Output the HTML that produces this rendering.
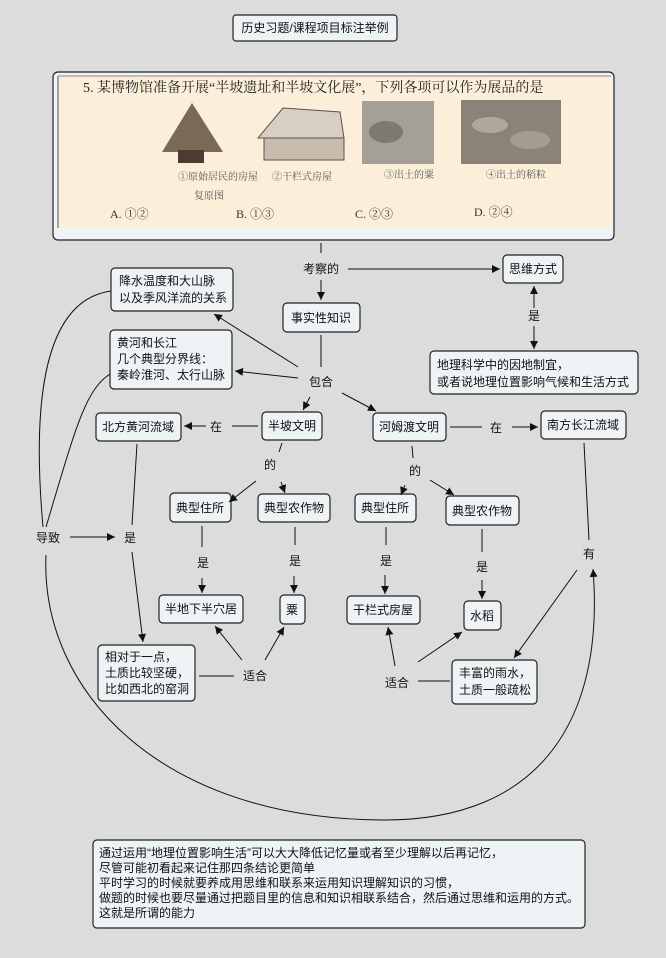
<!DOCTYPE html>
<html><head><meta charset="utf-8"><style>
html,body{margin:0;padding:0;background:#dcdcdc;}
svg{display:block;font-family:"Liberation Sans","Noto Sans CJK SC",sans-serif;}
text{font-size:12px;fill:#111;}
.b{fill:#eef3f5;stroke:#222;stroke-width:1.2;}
.l{stroke:#111;stroke-width:1;fill:none;}
</style></head><body>
<svg width="666" height="958" viewBox="0 0 666 958">
<defs><marker id="a" viewBox="0 0 10 10" refX="10" refY="5" markerWidth="8" markerHeight="8" orient="auto" markerUnits="userSpaceOnUse"><path d="M0,0L10,5L0,10z" fill="#111"/></marker></defs>
<rect width="666" height="958" fill="#dcdcdc"/>
<rect class="b" x="233" y="15" width="164" height="26" rx="3"/>
<text x="315" y="32" text-anchor="middle">历史习题/课程项目标注举例</text>
<rect class="b" x="53" y="72" width="561" height="168" rx="5"/>
<rect x="58" y="76" width="553" height="152" fill="#fbefd9"/>
<line x1="58" y1="76" x2="58" y2="228" stroke="#555"/>
<line x1="58" y1="76" x2="611" y2="76" stroke="#888"/>
<text x="83" y="92" style="font-family:'Liberation Serif','Noto Serif CJK SC',serif;font-size:14px;fill:#222">5. 某博物馆准备开展“半坡遗址和半坡文化展”，下列各项可以作为展品的是</text>
<path d="M192,103 L162,152 L223,152 Z" fill="#7a6a55"/><rect x="178" y="150" width="26" height="13" fill="#4a3c2e"/>
<path d="M283,108 L340,112 L344,138 L258,138 Z" fill="#d8cfc2" stroke="#555"/><rect x="264" y="138" width="80" height="22" fill="#c8bcab" stroke="#555"/>
<rect x="362" y="101" width="72" height="63" fill="#a5a097"/><ellipse cx="386" cy="132" rx="17" ry="11" fill="#7e7a72"/>
<rect x="461" y="100" width="100" height="64" fill="#8a8478"/>
<ellipse cx="490" cy="125" rx="18" ry="8" fill="#b0a898"/><ellipse cx="530" cy="140" rx="20" ry="9" fill="#a49c8c"/>
<text x="178" y="180" style="font-family:'Liberation Serif','Noto Serif CJK SC',serif;font-size:10px;fill:#555">①原始居民的房屋</text>
<text x="194" y="199" style="font-family:'Liberation Serif','Noto Serif CJK SC',serif;font-size:10px;fill:#555">复原图</text>
<text x="272" y="180" style="font-family:'Liberation Serif','Noto Serif CJK SC',serif;font-size:10px;fill:#555">②干栏式房屋</text>
<text x="384" y="178" style="font-family:'Liberation Serif','Noto Serif CJK SC',serif;font-size:10px;fill:#555">③出土的粟</text>
<text x="486" y="178" style="font-family:'Liberation Serif','Noto Serif CJK SC',serif;font-size:10px;fill:#555">④出土的稻粒</text>
<text x="110" y="218" style="font-family:'Liberation Serif','Noto Serif CJK SC',serif;font-size:12px;fill:#333">A. ①②</text>
<text x="236" y="218" style="font-family:'Liberation Serif','Noto Serif CJK SC',serif;font-size:12px;fill:#333">B. ①③</text>
<text x="355" y="218" style="font-family:'Liberation Serif','Noto Serif CJK SC',serif;font-size:12px;fill:#333">C. ②③</text>
<text x="474" y="216" style="font-family:'Liberation Serif','Noto Serif CJK SC',serif;font-size:12px;fill:#333">D. ②④</text>
<rect class="b" x="503" y="255" width="60" height="28" rx="4"/><text x="533" y="273" text-anchor="middle">思维方式</text>
<rect class="b" x="283" y="303" width="77" height="29" rx="4"/><text x="321" y="322" text-anchor="middle">事实性知识</text>
<rect class="b" x="111" y="268" width="122" height="43" rx="4"/><text x="119" y="285">降水温度和大山脉</text><text x="119" y="302">以及季风洋流的关系</text>
<rect class="b" x="110" y="330" width="122" height="59" rx="4"/><text x="117" y="347">黄河和长江</text><text x="117" y="363">几个典型分界线：</text><text x="117" y="379">秦岭淮河、太行山脉</text>
<rect class="b" x="430" y="351" width="208" height="43" rx="4"/><text x="437" y="369">地理科学中的因地制宜，</text><text x="437" y="386">或者说地理位置影响气候和生活方式</text>
<rect class="b" x="262" y="412" width="60" height="28" rx="4"/><text x="292" y="430" text-anchor="middle">半坡文明</text>
<rect class="b" x="373" y="413" width="73" height="28" rx="4"/><text x="409" y="431" text-anchor="middle">河姆渡文明</text>
<rect class="b" x="96" y="413" width="85" height="28" rx="4"/><text x="138" y="431" text-anchor="middle">北方黄河流域</text>
<rect class="b" x="541" y="411" width="85" height="28" rx="4"/><text x="583" y="429" text-anchor="middle">南方长江流域</text>
<rect class="b" x="170" y="493" width="61" height="29" rx="4"/><text x="200" y="512" text-anchor="middle">典型住所</text>
<rect class="b" x="258" y="494" width="72" height="28" rx="4"/><text x="294" y="512" text-anchor="middle">典型农作物</text>
<rect class="b" x="355" y="494" width="61" height="28" rx="4"/><text x="385" y="512" text-anchor="middle">典型住所</text>
<rect class="b" x="446" y="496" width="73" height="29" rx="4"/><text x="482" y="515" text-anchor="middle">典型农作物</text>
<rect class="b" x="159" y="595" width="84" height="28" rx="4"/><text x="201" y="613" text-anchor="middle">半地下半穴居</text>
<rect class="b" x="280" y="595" width="25" height="29" rx="4"/><text x="292" y="614" text-anchor="middle">粟</text>
<rect class="b" x="347" y="596" width="73" height="28" rx="4"/><text x="383" y="614" text-anchor="middle">干栏式房屋</text>
<rect class="b" x="464" y="601" width="37" height="29" rx="4"/><text x="482" y="620" text-anchor="middle">水稻</text>
<rect class="b" x="98" y="645" width="97" height="56" rx="4"/><text x="105" y="661">相对于一点，</text><text x="105" y="677">土质比较坚硬，</text><text x="105" y="693">比如西北的窑洞</text>
<rect class="b" x="452" y="660" width="85" height="44" rx="4"/><text x="459" y="677">丰富的雨水，</text><text x="459" y="694">土质一般疏松</text>
<rect class="b" x="93" y="840" width="492" height="88" rx="4"/>
<text x="99" y="857">通过运用“地理位置影响生活”可以大大降低记忆量或者至少理解以后再记忆，</text>
<text x="99" y="872">尽管可能初看起来记住那四条结论更简单</text>
<text x="99" y="887">平时学习的时候就要养成用思维和联系来运用知识理解知识的习惯，</text>
<text x="99" y="902">做题的时候也要尽量通过把题目里的信息和知识相联系结合，然后通过思维和运用的方式。</text>
<text x="99" y="917">这就是所谓的能力</text>
<text x="321" y="273" text-anchor="middle">考察的</text>
<text x="321" y="386" text-anchor="middle">包合</text>
<text x="534" y="320" text-anchor="middle">是</text>
<text x="216" y="431" text-anchor="middle">在</text>
<text x="496" y="432" text-anchor="middle">在</text>
<text x="270" y="469" text-anchor="middle">的</text>
<text x="415" y="475" text-anchor="middle">的</text>
<text x="203" y="567" text-anchor="middle">是</text>
<text x="295" y="565" text-anchor="middle">是</text>
<text x="386" y="565" text-anchor="middle">是</text>
<text x="482" y="571" text-anchor="middle">是</text>
<text x="255" y="680" text-anchor="middle">适合</text>
<text x="397" y="687" text-anchor="middle">适合</text>
<text x="589" y="558" text-anchor="middle">有</text>
<text x="48" y="542" text-anchor="middle">导致</text>
<text x="130" y="542" text-anchor="middle">是</text>
<g class="l">
<line x1="321" y1="243" x2="321" y2="253"/>
<line x1="348" y1="269" x2="500" y2="269" marker-end="url(#a)"/>
<line x1="321" y1="280" x2="321" y2="300" marker-end="url(#a)"/>
<line x1="321" y1="335" x2="321" y2="367"/>
<line x1="298" y1="367" x2="214" y2="314" marker-end="url(#a)"/>
<line x1="298" y1="378" x2="235" y2="371" marker-end="url(#a)"/>
<line x1="534" y1="308" x2="534" y2="286" marker-end="url(#a)"/>
<line x1="534" y1="326" x2="534" y2="349" marker-end="url(#a)"/>
<line x1="310" y1="397" x2="303" y2="410" marker-end="url(#a)"/>
<line x1="342" y1="393" x2="376" y2="411" marker-end="url(#a)"/>
<line x1="258" y1="426" x2="232" y2="426"/>
<line x1="206" y1="426" x2="184" y2="426" marker-end="url(#a)"/>
<line x1="450" y1="427" x2="482" y2="427"/>
<line x1="512" y1="427" x2="538" y2="427" marker-end="url(#a)"/>
<line x1="282" y1="443" x2="279" y2="452"/>
<line x1="256" y1="481" x2="229" y2="502" marker-end="url(#a)"/>
<line x1="281" y1="482" x2="285" y2="493" marker-end="url(#a)"/>
<line x1="412" y1="446" x2="413" y2="458"/>
<line x1="405" y1="485" x2="401" y2="495" marker-end="url(#a)"/>
<line x1="430" y1="480" x2="454" y2="495" marker-end="url(#a)"/>
<line x1="202" y1="526" x2="202" y2="547"/><line x1="202" y1="578" x2="202" y2="593" marker-end="url(#a)"/>
<line x1="295" y1="527" x2="295" y2="545"/><line x1="294" y1="576" x2="294" y2="593" marker-end="url(#a)"/>
<line x1="386" y1="527" x2="386" y2="545"/><line x1="385" y1="575" x2="385" y2="594" marker-end="url(#a)"/>
<line x1="482" y1="529" x2="482" y2="552"/><line x1="482" y1="580" x2="482" y2="599" marker-end="url(#a)"/>
<line x1="199" y1="676" x2="234" y2="676"/>
<line x1="242" y1="660" x2="215" y2="626" marker-end="url(#a)"/>
<line x1="265" y1="660" x2="284" y2="627" marker-end="url(#a)"/>
<line x1="418" y1="681" x2="450" y2="681"/>
<line x1="395" y1="666" x2="388" y2="627" marker-end="url(#a)"/>
<line x1="418" y1="662" x2="462" y2="632" marker-end="url(#a)"/>
<line x1="584" y1="443" x2="589" y2="540"/>
<line x1="577" y1="570" x2="514" y2="658" marker-end="url(#a)"/>
<line x1="70" y1="537" x2="115" y2="537" marker-end="url(#a)"/>
<line x1="137" y1="444" x2="132" y2="525"/>
<line x1="132" y1="552" x2="143" y2="642" marker-end="url(#a)"/>
<path d="M111,291 C60,298 28,360 43,527"/>
<path d="M110,374 C85,390 75,430 46,527"/>
<path d="M46,555 C40,690 160,820 385,820 C540,820 605,720 593,569" marker-end="url(#a)"/>
</g>
</svg>
</body></html>
